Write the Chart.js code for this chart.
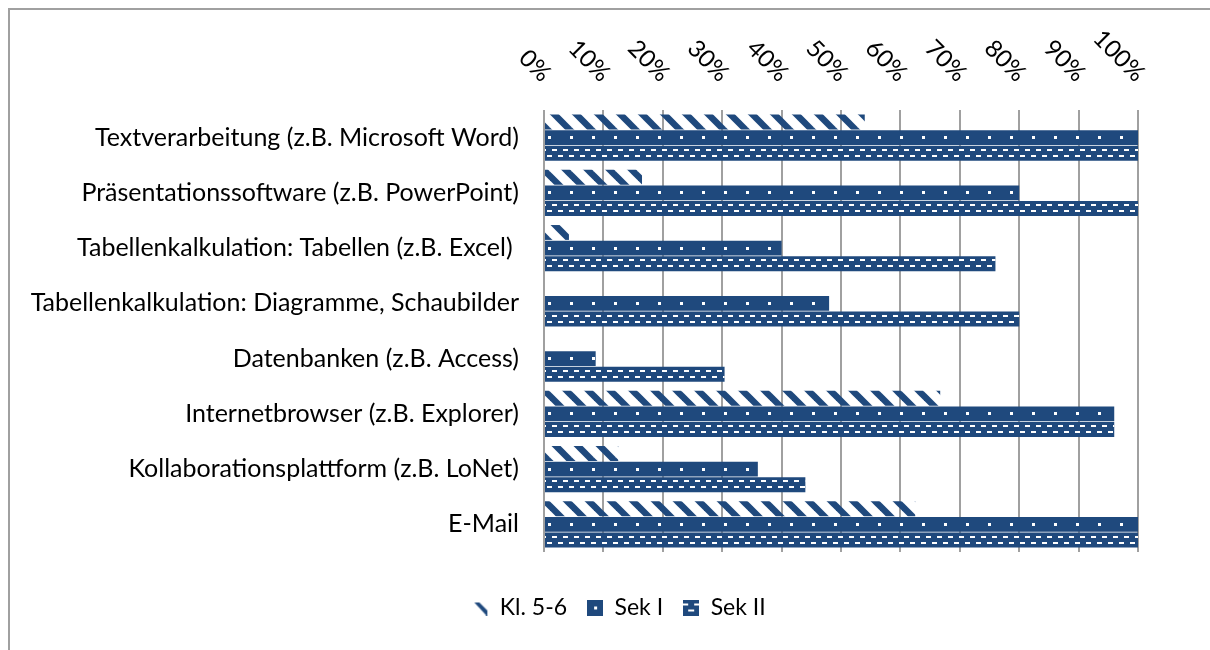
<!DOCTYPE html>
<html>
<head>
<meta charset="utf-8">
<script src="https://cdn.jsdelivr.net/npm/chart.js@4.4.1/dist/chart.umd.min.js"></script>
<style>
  html, body { margin: 0; padding: 0; background: #fff; overflow: hidden; }
  #frame { position: absolute; left: 8px; top: 8px; width: 1300px; height: 700px;
           border-left: 2px solid #a0a0a0; border-top: 2px solid #a0a0a0; }
  #chart { position: absolute; left: 0; top: 0; }
</style>
</head>
<body>
<div id="frame"></div>
<canvas id="chart" width="1210" height="650"></canvas>
<script>
const categories = [
  "Textverarbeitung (z.B. Microsoft Word)",
  "Präsentationssoftware (z.B. PowerPoint)",
  "Tabellenkalkulation: Tabellen (z.B. Excel) ",
  "Tabellenkalkulation: Diagramme, Schaubilder",
  "Datenbanken (z.B. Access)",
  "Internetbrowser (z.B. Explorer)",
  "Kollaborationsplattform (z.B. LoNet)",
  "E-Mail"
];
const kl56 = [54, 16.5, 4.2, 0, 0, 66.7, 12.5, 62.5];
const sekI = [100, 80, 40, 48, 8.7, 96, 36, 100];
const sekII = [100, 100, 76, 80, 30.4, 96, 44, 100];
const xTicks = [0, 10, 20, 30, 40, 50, 60, 70, 80, 90, 100];

const NAVY = "#1f497d";
const FONT = "Lato";

// wide downward diagonal stripes for Kl. 5-6
function stripeTile() {
  const s = 22;
  const c = document.createElement("canvas");
  c.width = s; c.height = s;
  const g = c.getContext("2d");
  g.strokeStyle = NAVY;
  g.lineWidth = 6.5;
  for (let k = -1; k <= 1; k++) {
    g.beginPath();
    g.moveTo(k * s - 3, -3);
    g.lineTo(k * s + s + 3, s + 3);
    g.stroke();
  }
  return c;
}

// little icons for the legend
function legendIcon(kind) {
  const c = document.createElement("canvas");
  c.width = 16; c.height = 16;
  const g = c.getContext("2d");
  if (kind === 0) {
    g.fillStyle = NAVY;
    g.beginPath();
    g.moveTo(2, 3); g.lineTo(7, 3); g.lineTo(15, 11); g.lineTo(15, 16); g.lineTo(14, 16);
    g.closePath();
    g.fill();
  } else {
    g.fillStyle = NAVY;
    g.fillRect(0, 0, 16, 16);
    g.fillStyle = "#fff";
    if (kind === 1) {
      g.fillRect(7, 7, 3, 3);
    } else {
      g.fillRect(0, 4, 5, 2); g.fillRect(11, 4, 5, 2);
      g.fillRect(5, 10, 6, 2);
    }
  }
  return c;
}

const canvas = document.getElementById("chart");
const ctx = canvas.getContext("2d");
const stripes = ctx.createPattern(stripeTile(), "repeat");
const legendIcons = [legendIcon(0), legendIcon(1), legendIcon(2)];

// white dots / dashes on the solid bars
const barDetail = {
  id: "barDetail",
  afterDatasetsDraw(chart) {
    const c = chart.ctx;
    c.save();
    c.fillStyle = "#fff";
    [1, 2].forEach(function (di) {
      chart.getDatasetMeta(di).data.forEach(function (bar) {
        const p = bar.getProps(["x", "y", "base", "height"], true);
        const top = p.y - p.height / 2;
        const left = Math.min(p.base, p.x), right = Math.max(p.base, p.x);
        if (right - left < 1) return;
        c.save();
        c.beginPath();
        c.rect(left, top, right - left, p.height);
        c.clip();
        if (di === 1) {
          for (let px = left + 3; px < right - 2; px += 22) {
            c.fillRect(Math.round(px), Math.round(p.y - 1.5), 3, 3);
          }
        } else {
          for (let px = left - 4; px < right; px += 11) {
            c.fillRect(Math.round(px), Math.round(top + 3), 5, 2);
            c.fillRect(Math.round(px + 5.5), Math.round(top + 9), 5, 2);
          }
        }
        c.restore();
      });
    });
    c.restore();
  }
};

// rotated percent labels above the plot
const topTicks = {
  id: "topTicks",
  afterDraw(chart) {
    const sc = chart.scales.x;
    const c = chart.ctx;
    c.save();
    c.font = "24px " + FONT;
    c.fillStyle = "#000";
    c.textAlign = "right";
    c.textBaseline = "alphabetic";
    xTicks.forEach(function (v) {
      const px = sc.getPixelForValue(v);
      c.save();
      c.translate(px - 3, chart.chartArea.top - 27);
      c.rotate(Math.PI / 4);
      c.fillText(v + "%", 0, 0);
      c.restore();
    });
    c.restore();
  }
};

// legend sits centred under the whole frame, a bit right of the plot centre
const legendShift = {
  id: "legendShift",
  afterLayout(chart) {
    chart.legend.left += 50;
    chart.legend.right += 50;
  }
};

new Chart(ctx, {
  type: "bar",
  data: {
    labels: categories,
    datasets: [
      { label: "Kl. 5-6", data: kl56, backgroundColor: stripes, borderWidth: 0 },
      { label: "Sek I", data: sekI, backgroundColor: NAVY, borderWidth: 0 },
      { label: "Sek II", data: sekII, backgroundColor: NAVY, borderWidth: 0 }
    ]
  },
  options: {
    indexAxis: "y",
    responsive: false,
    animation: false,
    devicePixelRatio: 1,
    categoryPercentage: 0.85,
    barPercentage: 0.95,
    layout: { padding: { top: 110, right: 72, bottom: 21, left: 0 } },
    scales: {
      x: {
        position: "top",
        min: 0,
        max: 100,
        ticks: { display: false, stepSize: 10 },
        grid: { color: "#a0a0a0", lineWidth: 2, drawTicks: false },
        border: { display: false },
        afterFit: function (scale) { scale.height = 0; }
      },
      y: {
        grid: { display: false, drawTicks: false },
        border: { display: false },
        ticks: { color: "#000", font: { family: FONT, size: 25 }, padding: 25 },
        afterFit: function (scale) { scale.width = 544; }
      }
    },
    plugins: {
      tooltip: { enabled: false },
      legend: {
        position: "bottom",
        title: { display: true, text: "", font: { size: 10 }, padding: { top: 12, bottom: 0 } },
        labels: {
          usePointStyle: true,
          boxWidth: 16,
          boxHeight: 16,
          padding: 20,
          color: "#000",
          font: { family: FONT, size: 23 },
          generateLabels: function (chart) {
            return chart.data.datasets.map(function (ds, i) {
              return {
                text: ds.label,
                pointStyle: legendIcons[i],
                datasetIndex: i,
                hidden: false,
                fontColor: "#000",
                lineWidth: 0,
                strokeStyle: "transparent",
                fillStyle: "transparent"
              };
            });
          }
        }
      }
    }
  },
  plugins: [barDetail, topTicks, legendShift]
});
</script>
</body>
</html>
